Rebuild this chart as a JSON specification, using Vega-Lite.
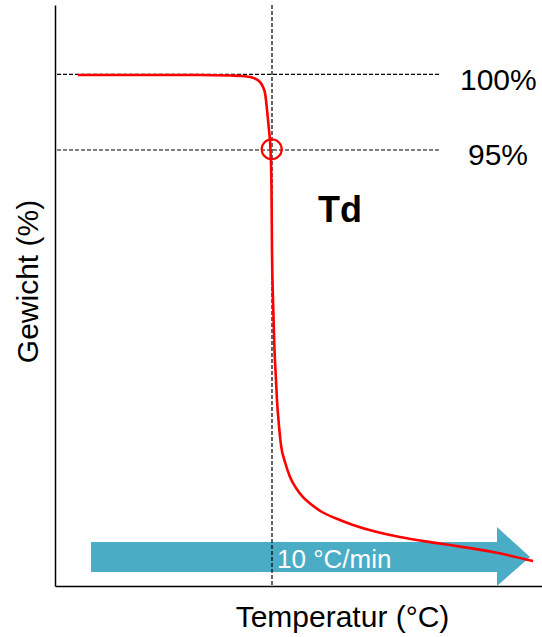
{
  "$schema": "https://vega.github.io/schema/vega-lite/v6.json",
  "width": 487,
  "height": 581,
  "autosize": {"type": "none"},
  "padding": {"left": 55, "top": 5, "right": 0, "bottom": 51},
  "background": "white",
  "config": {
    "view": {"stroke": null},
    "font": "Liberation Sans",
    "axisX": {"domain": true, "domainColor": "#000000", "domainWidth": 1.3, "ticks": false, "labels": false, "grid": false, "titleFontSize": 30, "titleFontWeight": "normal", "titleColor": "#000000", "titleFont": "Liberation Sans", "titleX": 287, "titleY": 40, "titleBaseline": "alphabetic", "titleAlign": "center"},
    "axisY": {"domain": true, "domainColor": "#000000", "domainWidth": 1.5, "ticks": false, "labels": false, "grid": false, "titleFontSize": 30, "titleFontWeight": "normal", "titleColor": "#000000", "titleFont": "Liberation Sans", "titleX": -18, "titleY": 276, "titleAngle": -90, "titleBaseline": "alphabetic", "titleAlign": "center"}
  },
  "datasets": {
    "curve": [
      {"T": 23, "w": 99.97}, {"T": 95, "w": 99.97}, {"T": 145, "w": 99.97}, {"T": 175, "w": 99.93},
      {"T": 187, "w": 99.9}, {"T": 195, "w": 99.83}, {"T": 201, "w": 99.7}, {"T": 205, "w": 99.5},
      {"T": 208, "w": 99.17}, {"T": 210, "w": 98.77}, {"T": 211, "w": 98.31}, {"T": 212.5, "w": 97.32},
      {"T": 214, "w": 96.32}, {"T": 215.5, "w": 95.0}, {"T": 216.5, "w": 92.35}, {"T": 217, "w": 88.38},
      {"T": 218, "w": 85.07}, {"T": 219.5, "w": 81.75}, {"T": 221, "w": 79.77}, {"T": 222, "w": 78.44},
      {"T": 223.5, "w": 77.12}, {"T": 226, "w": 75.46}, {"T": 230, "w": 74.34}, {"T": 235, "w": 73.35},
      {"T": 241, "w": 72.62}, {"T": 248, "w": 72.02}, {"T": 257, "w": 71.49}, {"T": 267, "w": 71.03},
      {"T": 280, "w": 70.63}, {"T": 298, "w": 70.17}, {"T": 322, "w": 69.7}, {"T": 345, "w": 69.37},
      {"T": 388, "w": 68.91}, {"T": 438, "w": 68.38}, {"T": 478, "w": 67.78}
    ],
    "arrowBody": [{"T": 36, "T2": 442, "w": 69.04, "w2": 67.05}],
    "arrowHead": [{"T": 442, "w": 70.03, "w2": 66.13}, {"T": 475, "w": 68.05, "w2": 68.05}],
    "hlines": [{"T": 2, "T2": 386, "w": 100}, {"T": 2, "T2": 386, "w": 95}],
    "vline": [{"T": 217}],
    "td": [{"T": 216.7, "w": 95.05}],
    "pctLabels": [{"T": 405, "w": 98.97, "label": "100%"}, {"T": 413, "w": 94.01, "label": "95%"}],
    "tdLabel": [{"T": 263, "w": 90.23, "label": "Td"}],
    "rateLabel": [{"T": 222, "w": 67.32, "label": "10 °C/min"}]
  },
  "layer": [
    {
      "data": {"name": "arrowBody"},
      "mark": {"type": "rect", "color": "#4BACC6"},
      "encoding": {
        "x": {"field": "T", "type": "quantitative", "scale": {"domain": [0, 487], "nice": false, "zero": false}, "title": "Temperatur (°C)"},
        "x2": {"field": "T2"},
        "y": {"field": "w", "type": "quantitative", "scale": {"domain": [66.13, 104.6], "nice": false, "zero": false}, "title": "Gewicht (%)"},
        "y2": {"field": "w2"}
      }
    },
    {
      "data": {"name": "arrowHead"},
      "mark": {"type": "area", "color": "#4BACC6", "opacity": 1},
      "encoding": {
        "x": {"field": "T", "type": "quantitative", "title": "Temperatur (°C)"},
        "y": {"field": "w", "type": "quantitative", "title": "Gewicht (%)"},
        "y2": {"field": "w2"}
      }
    },
    {
      "data": {"name": "rateLabel"},
      "mark": {"type": "text", "align": "left", "baseline": "alphabetic", "fontSize": 26, "color": "#ffffff", "font": "Liberation Sans"},
      "encoding": {
        "x": {"field": "T", "type": "quantitative", "title": "Temperatur (°C)"},
        "y": {"field": "w", "type": "quantitative", "title": "Gewicht (%)"},
        "text": {"field": "label"}
      }
    },
    {
      "data": {"name": "hlines"},
      "mark": {"type": "rule", "color": "#000000", "strokeWidth": 1.2, "strokeDash": [4, 2]},
      "encoding": {
        "x": {"field": "T", "type": "quantitative", "title": "Temperatur (°C)"},
        "x2": {"field": "T2"},
        "y": {"field": "w", "type": "quantitative", "title": "Gewicht (%)"}
      }
    },
    {
      "data": {"name": "vline"},
      "mark": {"type": "rule", "color": "#000000", "strokeWidth": 1.2, "strokeDash": [4, 2]},
      "encoding": {
        "x": {"field": "T", "type": "quantitative", "title": "Temperatur (°C)"}
      }
    },
    {
      "data": {"name": "curve"},
      "mark": {"type": "line", "color": "#FF0000", "strokeWidth": 2.6, "interpolate": "monotone"},
      "encoding": {
        "x": {"field": "T", "type": "quantitative", "title": "Temperatur (°C)"},
        "y": {"field": "w", "type": "quantitative", "title": "Gewicht (%)"}
      }
    },
    {
      "data": {"name": "td"},
      "mark": {"type": "point", "shape": "circle", "filled": false, "color": "#FF0000", "strokeWidth": 2.2, "size": 400, "opacity": 1},
      "encoding": {
        "x": {"field": "T", "type": "quantitative", "title": "Temperatur (°C)"},
        "y": {"field": "w", "type": "quantitative", "title": "Gewicht (%)"}
      }
    },
    {
      "data": {"name": "pctLabels"},
      "mark": {"type": "text", "align": "left", "baseline": "alphabetic", "fontSize": 30, "color": "#000000", "font": "Liberation Sans"},
      "encoding": {
        "x": {"field": "T", "type": "quantitative", "title": "Temperatur (°C)"},
        "y": {"field": "w", "type": "quantitative", "title": "Gewicht (%)"},
        "text": {"field": "label"}
      }
    },
    {
      "data": {"name": "tdLabel"},
      "mark": {"type": "text", "align": "left", "baseline": "alphabetic", "fontSize": 36, "fontWeight": "bold", "color": "#000000", "font": "Liberation Sans"},
      "encoding": {
        "x": {"field": "T", "type": "quantitative", "title": "Temperatur (°C)"},
        "y": {"field": "w", "type": "quantitative", "title": "Gewicht (%)"},
        "text": {"field": "label"}
      }
    }
  ]
}
